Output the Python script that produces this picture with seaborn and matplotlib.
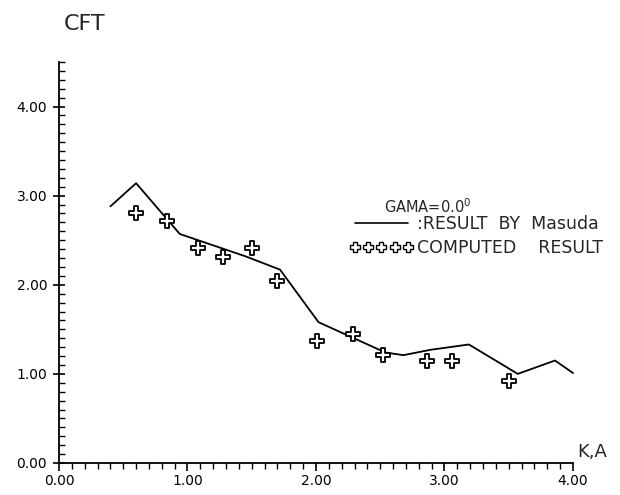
import matplotlib
matplotlib.use("Agg")
import matplotlib.pyplot as plt
from matplotlib.lines import Line2D
from matplotlib.ticker import MultipleLocator, FormatStrFormatter
import seaborn as sns
import pandas as pd

# ---- data ----
ka_line = [0.40, 0.60, 0.94, 1.45, 1.72, 2.02, 2.54, 2.68, 2.89, 3.19, 3.57, 3.86, 4.00]
cft_line = [2.88, 3.14, 2.57, 2.32, 2.17, 1.58, 1.24, 1.21, 1.27, 1.33, 1.00, 1.15, 1.01]
ka_pts = [0.60, 0.84, 1.08, 1.28, 1.50, 1.70, 2.01, 2.29, 2.52, 2.86, 3.06, 3.50]
cft_pts = [2.81, 2.72, 2.41, 2.31, 2.41, 2.04, 1.37, 1.45, 1.21, 1.14, 1.14, 0.92]
x_ticks = [0.0, 1.0, 2.0, 3.0, 4.0]
y_ticks = [0.0, 1.0, 2.0, 3.0, 4.0]

sns.set_style("white")
plt.rcParams["font.family"] = ["DejaVu Sans"]

fig = plt.figure(figsize=(6.2, 4.95), dpi=100)
ax = fig.add_axes([59/620, 1-463/495, (573-59)/620, (463-62)/495])

df_line = pd.DataFrame({"KA": ka_line, "CFT": cft_line})
df_pts = pd.DataFrame({"KA": ka_pts, "CFT": cft_pts})

sns.lineplot(data=df_line, x="KA", y="CFT", ax=ax, color="black", lw=1.3,
             sort=False, clip_on=False)
sns.scatterplot(data=df_pts, x="KA", y="CFT", ax=ax, marker="P", s=90,
                facecolor="white", edgecolor="black", linewidth=1.3, zorder=3)

ax.set_xlim(0, 4.0)
ax.set_ylim(0, 4.5)
ax.set_xlabel("")
ax.set_ylabel("")
for s in ["top", "right"]:
    ax.spines[s].set_visible(False)
for s in ["left", "bottom"]:
    ax.spines[s].set_color("black")
    ax.spines[s].set_linewidth(1.3)

ax.set_xticks(x_ticks)
ax.set_yticks(y_ticks)
ax.xaxis.set_major_formatter(FormatStrFormatter("%.2f"))
ax.yaxis.set_major_formatter(FormatStrFormatter("%.2f"))
ax.xaxis.set_minor_locator(MultipleLocator(0.1))
ax.yaxis.set_minor_locator(MultipleLocator(0.1))
ax.tick_params(axis="both", which="both", bottom=True, left=True, color="black")
ax.tick_params(axis="x", which="major", direction="out", length=6, width=1.2,
               labelsize=10, pad=2, labelcolor="black")
ax.tick_params(axis="x", which="minor", direction="out", length=4, width=1.0)
ax.tick_params(axis="y", which="major", direction="inout", length=9, width=1.2,
               labelsize=10, pad=4, labelcolor="black")
ax.tick_params(axis="y", which="minor", direction="in", length=4, width=1.0)

fig.text(64/620, 1-24/495, "CFT", fontsize=16, va="center", ha="left")
fig.text(577/620, 1-452/495, "K,A", fontsize=13, va="center", ha="left")

# legend block
fig.text(428/620, 1-207/495, "GAMA=0.0$^0$", fontsize=10.5, ha="center", va="center")
handles = [Line2D([], [], color="black", lw=1.2),
           Line2D([], [], ls="none", marker="P", markersize=7.5,
                  markerfacecolor="white", markeredgecolor="black", markeredgewidth=1.0)]
labels = [":RESULT  BY  Masuda", "COMPUTED    RESULT"]
fig.legend(handles, labels, loc="upper right", bbox_to_anchor=(603/620, 1-215/495),
           frameon=False, fontsize=12.5, numpoints=5, handlelength=3.7,
           handletextpad=0.2, labelspacing=0.35, borderaxespad=0, borderpad=0,
           markerscale=1.0)

fig.savefig("out.png", dpi=100)
